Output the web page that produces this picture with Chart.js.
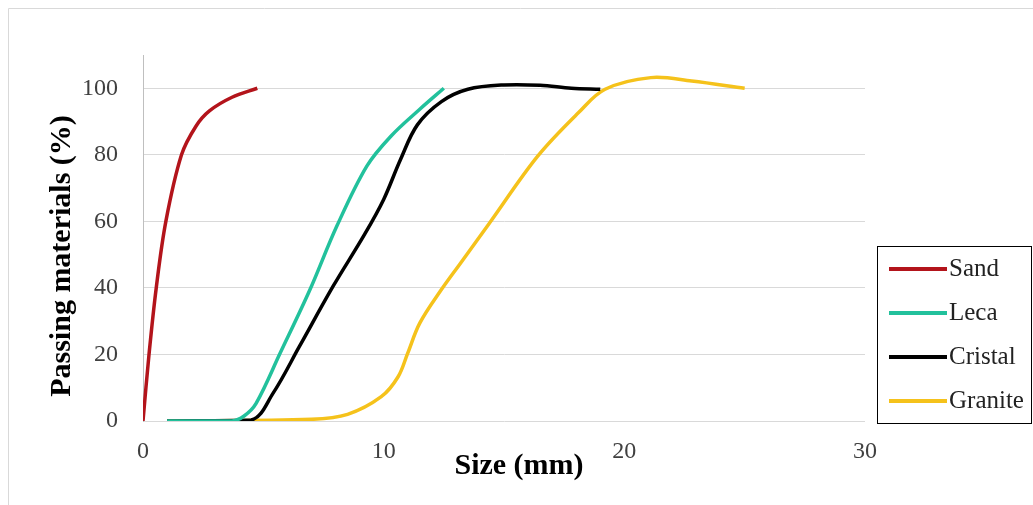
<!DOCTYPE html>
<html>
<head>
<meta charset="utf-8">
<script src="https://cdn.jsdelivr.net/npm/chart.js@4/dist/chart.umd.min.js"></script>
<style>
  html, body { margin: 0; padding: 0; background: #fff; }
  canvas { display: block; }
</style>
</head>
<body>
<canvas id="grading" width="1033" height="505"></canvas>
<script>
// sieve size (mm) / passing (%)
const seriesNames = ['Sand', 'Leca', 'Cristal', 'Granite']
const seriesColors = ['#b3141b', '#22c19c', '#000000', '#f5c21b']

const sandSize = [0, 0.25, 0.55, 0.95, 1.6, 2.2, 2.76, 3.7, 4.75]
const sandPass = [0, 20, 40, 60, 80, 88.6, 93.2, 97.3, 100]

const lecaSize = [1, 3.7, 4.2, 4.7, 5.7, 6.94, 8.05, 9.3, 10.3, 11.5, 12.5]
const lecaPass = [0, 0, 1.5, 5.3, 20.4, 39.5, 58.5, 76.6, 85.6, 93.7, 100]

const cristalSize = [1, 4.5, 5.4, 6.5, 7.9, 9.2, 10, 10.7, 11.4, 12.4, 13.5, 15, 16.5, 17.8, 19]
const cristalPass = [0, 0.3, 8.3, 22.4, 40.5, 56, 66.6, 78.6, 89, 96, 99.7, 101, 100.9, 100, 99.7]

const graniteSize = [1, 7, 8.5, 9.9, 10.6, 11, 11.5, 12.4, 13.2, 14.4, 16.4, 18.1, 19.2, 21.1, 22.8, 25]
const granitePass = [0, 0.5, 2, 7.3, 13.3, 20.4, 29.4, 39.5, 47.5, 59.5, 79.6, 92.7, 99.7, 103.2, 102.2, 100]

const xTicks = [0, 10, 20, 30]
const yTicks = [0, 20, 40, 60, 80, 100]

const sizes = [sandSize, lecaSize, cristalSize, graniteSize]
const passes = [sandPass, lecaPass, cristalPass, granitePass]

const serif = '"Liberation Serif", "Times New Roman", serif'

const datasets = seriesNames.map((name, i) => ({
  label: name,
  data: sizes[i].map((s, j) => ({x: s, y: passes[i][j]})),
  borderColor: seriesColors[i],
  backgroundColor: seriesColors[i],
  borderWidth: 3.5,
  pointRadius: 0,
  fill: false,
  tension: 0.35
}))

// frame, axis titles and boxed legend like the Excel original
const extras = {
  id: 'extras',
  afterDraw(chart) {
    const ctx = chart.ctx
    ctx.save()
    ctx.strokeStyle = '#d9d9d9'
    ctx.lineWidth = 1
    ctx.beginPath()
    ctx.moveTo(8.5, 505); ctx.lineTo(8.5, 8.5); ctx.lineTo(1033, 8.5)
    ctx.stroke()

    ctx.fillStyle = '#000'
    ctx.font = 'bold 30px ' + serif
    ctx.textAlign = 'center'
    ctx.textBaseline = 'middle'
    ctx.fillText('Size (mm)', 519, 466)
    ctx.save()
    ctx.translate(62, 256)
    ctx.rotate(-Math.PI / 2)
    ctx.fillText('Passing materials (%)', 0, 0)
    ctx.restore()

    ctx.fillStyle = '#fff'
    ctx.fillRect(877, 246, 154, 177)
    ctx.strokeStyle = '#000'
    ctx.strokeRect(877.5, 246.5, 154, 177)
    ctx.font = '25px ' + serif
    ctx.textAlign = 'left'
    chart.data.datasets.forEach((ds, i) => {
      const y = 269 + i * 44
      ctx.strokeStyle = ds.borderColor
      ctx.lineWidth = 4
      ctx.beginPath()
      ctx.moveTo(889, y); ctx.lineTo(947, y)
      ctx.stroke()
      ctx.fillStyle = '#222'
      ctx.fillText(ds.label, 949, y)
    })
    ctx.restore()
  }
}

new Chart(document.getElementById('grading').getContext('2d'), {
  type: 'line',
  data: {datasets},
  options: {
    responsive: false,
    animation: false,
    layout: {padding: {left: 0, right: 168, top: 55, bottom: 0}},
    plugins: {legend: {display: false}, tooltip: {enabled: false}},
    scales: {
      x: {
        type: 'linear',
        min: 0,
        max: 30,
        afterFit: (scale) => { scale.height = 84 },
        afterBuildTicks: (scale) => { scale.ticks = xTicks.map(v => ({value: v})) },
        grid: {display: false, drawTicks: false},
        border: {display: false},
        ticks: {color: '#404040', padding: 16, font: {family: serif, size: 24}, maxRotation: 0}
      },
      y: {
        min: 0,
        max: 110,
        afterFit: (scale) => { scale.width = 143 },
        afterBuildTicks: (scale) => { scale.ticks = yTicks.map(v => ({value: v})) },
        grid: {color: '#d9d9d9', lineWidth: 1, drawTicks: false},
        border: {display: true, color: '#bfbfbf', width: 1},
        ticks: {color: '#404040', padding: 25, font: {family: serif, size: 24}}
      }
    }
  },
  plugins: [extras]
})
</script>
</body>
</html>
